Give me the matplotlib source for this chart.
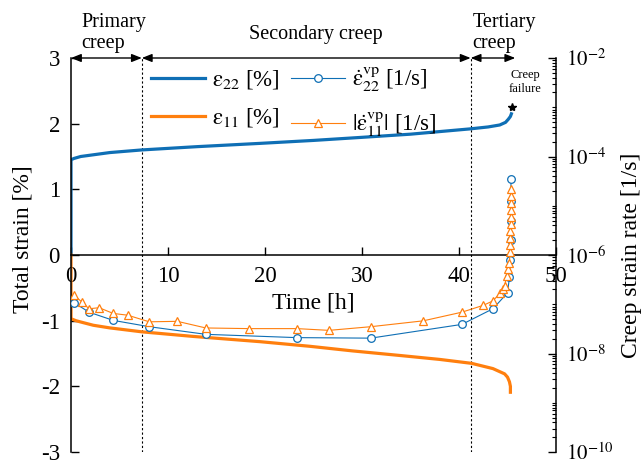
import numpy as np
import matplotlib
matplotlib.use("Agg")
import matplotlib.pyplot as plt
from matplotlib.ticker import LogLocator, NullFormatter, FixedLocator

plt.rcParams["font.family"] = ["Liberation Serif", "DejaVu Serif"]
plt.rcParams["mathtext.fontset"] = "stix"

# total strain curves [%]
t_e22 = [0, 0, 0.3, 1, 2, 4, 7.3, 13, 19.5, 25, 29.8, 35, 41.1, 43, 44.2, 44.8, 45.1, 45.3, 45.4]
e22 = [0, 1.45, 1.47, 1.50, 1.52, 1.56, 1.60, 1.65, 1.70, 1.745, 1.79, 1.84, 1.92, 1.95, 1.98, 2.02, 2.07, 2.11, 2.15]

t_e11 = [0, 0, 0.5, 1, 2.3, 4, 7.3, 12.6, 19.5, 24.6, 29, 33.9, 38, 41.3, 43.5, 44.7, 45.0, 45.2, 45.3, 45.3]
e11 = [0, -0.97, -1.00, -1.02, -1.07, -1.11, -1.17, -1.24, -1.32, -1.39, -1.46, -1.53, -1.59, -1.65, -1.73, -1.81, -1.86, -1.93, -2.0, -2.09]

# creep strain rates [1/s]
t_r22 = [0.34, 1.86, 4.36, 8.07, 13.9, 23.3, 30.9, 40.3, 43.5, 45.0, 45.2, 45.28, 45.32, 45.34, 45.35, 45.36]
r22 = [1.07e-7, 6.9e-8, 4.7e-8, 3.5e-8, 2.45e-8, 2.1e-8, 2.05e-8, 3.9e-8, 8.1e-8, 1.7e-7, 3.5e-7,
       7.9e-7, 2.0e-6, 5.0e-6, 1.26e-5, 3.5e-5]

t_r11 = [0.34, 1.1, 1.86, 2.9, 4.36, 5.84, 8.07, 10.96, 13.9, 18.4, 23.3, 26.6, 30.9, 36.3, 40.3,
         42.5, 43.5, 44.2, 44.5, 44.7, 44.9, 45.0, 45.2,
         45.25, 45.27, 45.29, 45.30, 45.31, 45.32, 45.33, 45.34, 45.35, 45.36]
r11 = [1.51e-7, 1.12e-7, 8.1e-8, 8.5e-8, 6.5e-8, 6.0e-8, 4.4e-8, 4.5e-8, 3.3e-8, 3.2e-8, 3.2e-8,
       2.95e-8, 3.5e-8, 4.6e-8, 6.9e-8, 9.5e-8, 1.17e-7, 1.66e-7, 2.0e-7, 2.3e-7, 3.7e-7, 5.1e-7, 6.8e-7,
       1.15e-6, 1.58e-6, 2.24e-6, 3.1e-6, 4.3e-6, 6.0e-6, 8.3e-6, 1.15e-5, 1.58e-5, 2.24e-5]

# creep stage boundaries [h]
t_primary_end = 7.3
t_secondary_end = 41.2
t_tertiary_end = 45.8
t_failure, e_failure = 45.45, 2.26

blue = "#0F6FB5"
orange = "#FF7F0E"
fs_tick = 16.5
fs_label = 17

fig = plt.figure(figsize=(6.44, 4.66), dpi=100)
ax = fig.add_axes([71 / 644, 14 / 466, 485 / 644, 394 / 466])
ax2 = ax.twinx()

l1, = ax.plot(t_e22, e22, color=blue, lw=2.3, label=r"$\mathrm{\varepsilon}_{22}$ [%]")
l2, = ax.plot(t_e11, e11, color=orange, lw=2.3, label=r"$\mathrm{\varepsilon}_{11}$ [%]")
l3, = ax2.plot(t_r22, r22, color=blue, lw=0.8, marker="o", ms=5.5, mfc="white", mec=blue, mew=0.9,
               label=r"$\dot{\mathrm{\varepsilon}}_{22}^{\mathrm{vp}}$ [1/s]")
l4, = ax2.plot(t_r11, r11, color=orange, lw=0.8, marker="^", ms=6, mfc="white", mec=orange, mew=0.9,
               label=r"$|\dot{\mathrm{\varepsilon}}_{11}^{\mathrm{vp}}|$ [1/s]")

ax.set_xlim(0, 50)
ax.set_ylim(-3, 3)
ax2.set_ylim(1e-10, 1e-2)
ax2.set_yscale("log")

# spines
ax.spines["top"].set_visible(False)
ax.spines["right"].set_visible(False)
ax.spines["bottom"].set_position(("data", 0))
for s in ["top", "bottom", "left"]:
    ax2.spines[s].set_visible(False)
for s in [ax.spines["left"], ax.spines["bottom"], ax2.spines["right"]]:
    s.set_linewidth(1.1)

ax.set_xticks([0, 10, 20, 30, 40, 50])
ax.set_yticks([-3, -2, -1, 0, 1, 2, 3])
ax.set_yticklabels(["-3", "-2", "-1", "0", "1", "2", "3"])
ax.tick_params(axis="both", direction="in", length=6, width=1, labelsize=fs_tick)
ax.tick_params(axis="x", pad=8)
ax.tick_params(axis="y", pad=8)

ax2.yaxis.set_major_locator(FixedLocator([1e-10, 1e-8, 1e-6, 1e-4, 1e-2]))
ax2.set_yticklabels([r"$10^{-10}$", r"$10^{-8}$", r"$10^{-6}$", r"$10^{-4}$", r"$10^{-2}$"])
ax2.yaxis.set_minor_locator(LogLocator(base=10, subs=np.arange(1, 10), numticks=100))
ax2.yaxis.set_minor_formatter(NullFormatter())
ax2.tick_params(axis="y", which="major", direction="in", length=6, width=1, labelsize=15, pad=7)
ax2.tick_params(axis="y", which="minor", direction="in", length=3, width=0.8)

ax.set_xlabel("Time [h]", fontsize=fs_label)
ax.xaxis.set_label_coords(0.5, 0.406)
ax.set_ylabel("Total strain [%]", fontsize=fs_label)
ax.yaxis.set_label_coords(-0.078, 0.54)
ax2.set_ylabel("Creep strain rate [1/s]", fontsize=fs_label)
ax2.yaxis.set_label_coords(1.135, 0.5)

# stage boundaries
for tb in [t_primary_end, t_secondary_end]:
    ax.plot([tb, tb], [-3, 3], color="black", ls=(0, (2, 2)), lw=0.8, zorder=1)

arrow_kw = dict(arrowstyle="<|-|>,head_length=0.6,head_width=0.24", color="black", lw=1, shrinkA=0, shrinkB=0)
for a, b in [(0, t_primary_end), (t_primary_end, t_secondary_end), (t_secondary_end, t_tertiary_end)]:
    ax.annotate("", xy=(a, 3), xytext=(b, 3), arrowprops=arrow_kw, annotation_clip=False)

ax.text(1.05, 3.07, "Primary\ncreep", fontsize=14.5, ha="left", va="bottom", linespacing=1.15, clip_on=False)
ax.text(25.2, 3.36, "Secondary creep", fontsize=14.5, ha="center", va="center", clip_on=False)
ax.text(41.4, 3.07, "Tertiary\ncreep", fontsize=14.5, ha="left", va="bottom", linespacing=1.15, clip_on=False)

ax.plot([t_failure], [e_failure], marker="*", color="black", ms=6, clip_on=False)
ax.text(46.8, 2.64, "Creep\nfailure", fontsize=9, ha="center", va="center", linespacing=1.2)

leg = ax2.legend(handles=[l1, l2, l3, l4], ncol=2, frameon=False, fontsize=fs_tick,
                 loc="upper left", bbox_to_anchor=(0.165, 0.985), borderaxespad=0, borderpad=0,
                 handlelength=2.35, handletextpad=0.3, columnspacing=0.5, labelspacing=0.66)

fig.savefig("out.png", dpi=100)
